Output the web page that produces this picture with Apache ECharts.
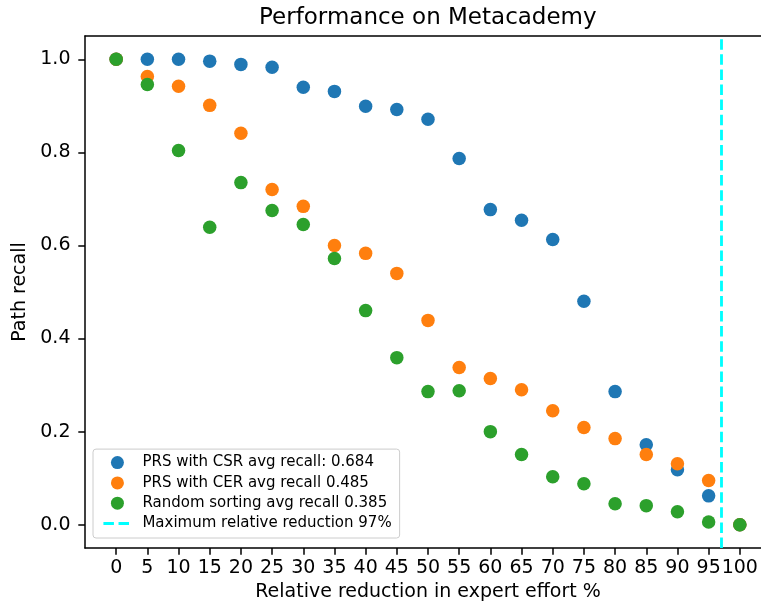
<!DOCTYPE html>
<html>
<head>
<meta charset="utf-8">
<script src="https://cdn.jsdelivr.net/npm/echarts@6/dist/echarts.min.js"></script>
<style>
  html, body { margin: 0; padding: 0; background: #fff; }
  #main { width: 761px; height: 609px; }
</style>
</head>
<body>
<div id="main"></div>
<script>
// x: relative reduction in expert effort (%)
const effort = [0, 5, 10, 15, 20, 25, 30, 35, 40, 45, 50, 55, 60, 65, 70, 75, 80, 85, 90, 95, 100];
const csrRecall = [1.0, 1.0, 1.0, 0.996, 0.989, 0.983, 0.94, 0.931, 0.899, 0.892, 0.871, 0.787, 0.677, 0.654, 0.613, 0.48, 0.286, 0.172, 0.118, 0.062, 0.0];
const cerRecall = [1.0, 0.963, 0.942, 0.901, 0.841, 0.72, 0.684, 0.6, 0.583, 0.54, 0.439, 0.338, 0.314, 0.29, 0.245, 0.209, 0.185, 0.151, 0.131, 0.095, 0.0];
const randomRecall = [1.0, 0.946, 0.804, 0.639, 0.735, 0.675, 0.645, 0.572, 0.46, 0.359, 0.286, 0.288, 0.2, 0.151, 0.103, 0.088, 0.045, 0.041, 0.028, 0.006, 0.0];
const maxReduction = 97;
const xTicks = effort;
const yTicks = [0, 0.2, 0.4, 0.6, 0.8, 1.0];

const FONT = "DejaVu Sans";
const DASH = [10.5, 4.6];
const SPINE = { color: "#000", width: 1.5 };

let myChart = echarts.init(document.getElementById("main"), null, { renderer: "canvas" });

const pairs = (ys) => effort.map((x, i) => [x, ys[i]]);

const scatter = (name, ys, color) => ({
  name: name,
  type: "scatter",
  data: pairs(ys),
  symbol: "circle",
  symbolSize: 13.5,
  itemStyle: { color: color, opacity: 1 },
  emphasis: { disabled: true },
});

const option = {
  animation: false,
  title: {
    text: "Performance on Metacademy",
    left: 254,
    top: 2,
    textStyle: { fontFamily: FONT, fontSize: 23, fontWeight: "normal", color: "#000" },
  },
  // plot area runs past the right edge of the picture (the original was cropped)
  grid: {
    left: 85,
    top: 36,
    width: 686,
    height: 512,
    show: false,
    containLabel: false,
    outerBoundsMode: "none",
  },
  legend: {
    orient: "vertical",
    left: 93,
    bottom: 71,
    padding: [6, 8, 7, 9],
    itemWidth: 28,
    itemHeight: 13,
    itemGap: 5.3,
    backgroundColor: "rgba(255,255,255,0.8)",
    borderColor: "#cccccc",
    borderWidth: 1,
    borderRadius: 3,
    textStyle: { fontFamily: FONT, fontSize: 15, color: "#000", lineHeight: 15, padding: [0, 0, 0, 6] },
    data: [
      "PRS with CSR avg recall: 0.684",
      "PRS with CER avg recall 0.485",
      "Random sorting avg recall 0.385",
      {
        name: "Maximum relative reduction 97%",
        itemStyle: { opacity: 0 },
        lineStyle: { color: "#00ffff", width: 2.85, type: DASH, opacity: 1 },
      },
    ],
  },
  xAxis: [
    {
      type: "value",
      min: -5,
      max: 105,
      name: "Relative reduction in expert effort %",
      nameLocation: "middle",
      nameGap: 29,
      nameTextStyle: { fontFamily: FONT, fontSize: 19, color: "#000" },
      axisLine: { show: true, onZero: false, lineStyle: SPINE },
      axisTick: { show: true, length: 6.7, lineStyle: SPINE, customValues: xTicks },
      axisLabel: { fontFamily: FONT, fontSize: 19, color: "#000", margin: 11, customValues: xTicks, hideOverlap: false },
      splitLine: { show: false },
    },
    {
      // top spine only
      type: "value",
      position: "top",
      min: -5,
      max: 105,
      axisLine: { show: true, onZero: false, lineStyle: SPINE },
      axisTick: { show: false },
      axisLabel: { show: false },
      splitLine: { show: false },
    },
  ],
  yAxis: {
    type: "value",
    min: -0.05,
    max: 1.05,
    name: "Path recall",
    nameLocation: "middle",
    nameGap: 43,
    nameTextStyle: { fontFamily: FONT, fontSize: 19, color: "#000" },
    axisLine: { show: true, onZero: false, lineStyle: SPINE },
    axisTick: { show: true, length: 6.7, lineStyle: SPINE, customValues: yTicks },
    axisLabel: {
      fontFamily: FONT, fontSize: 19, color: "#000", margin: 14.5,
      customValues: yTicks,
      formatter: (v) => v.toFixed(1),
    },
    splitLine: { show: false },
  },
  series: [
    scatter("PRS with CSR avg recall: 0.684", csrRecall, "#1f77b4"),
    scatter("PRS with CER avg recall 0.485", cerRecall, "#ff7f0e"),
    scatter("Random sorting avg recall 0.385", randomRecall, "#2ca02c"),
    {
      name: "Maximum relative reduction 97%",
      type: "line",
      data: [],
      symbol: "none",
      itemStyle: { color: "#00ffff" },
      lineStyle: { color: "#00ffff", width: 2.85, type: DASH },
      markLine: {
        silent: true,
        symbol: "none",
        label: { show: false },
        lineStyle: { color: "#00ffff", width: 2.85, type: DASH },
        data: [{ xAxis: maxReduction }],
      },
      z: 1,
    },
  ],
};

option && myChart.setOption(option);
</script>
</body>
</html>
